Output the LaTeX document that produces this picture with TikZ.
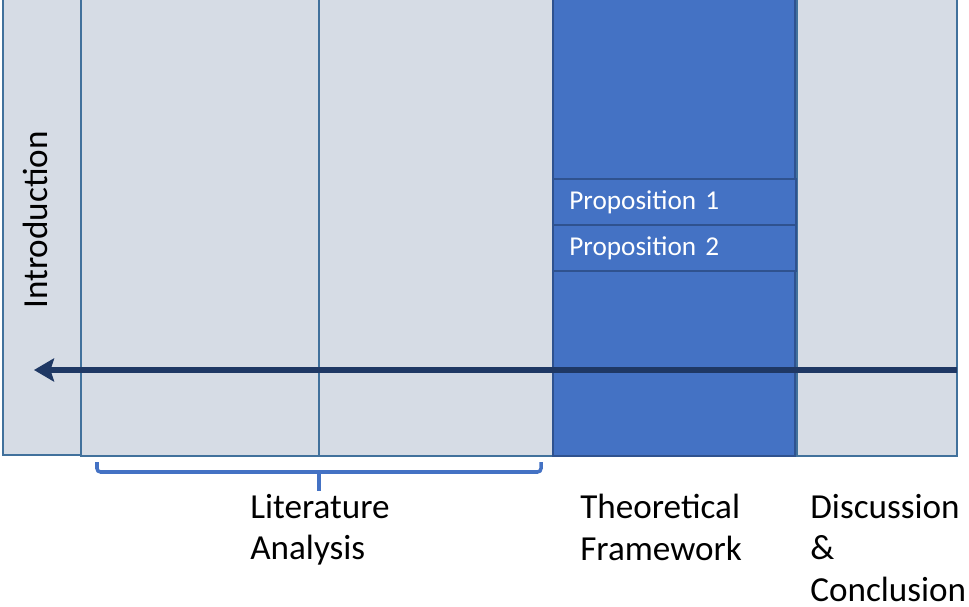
\documentclass[tikz,border=0pt]{standalone}
\usepackage{fontspec}
\setmainfont{Carlito}
\usepackage{xcolor}
\usepackage{tikz}
\usetikzlibrary{arrows.meta}
\definecolor{colfill}{HTML}{D6DCE5}
\definecolor{colline}{HTML}{41719C}
\definecolor{theofill}{HTML}{4472C4}
\definecolor{theoline}{HTML}{2F528F}
\definecolor{arrnavy}{HTML}{1F3864}
\tikzset{column/.style = {draw=colline, fill=colfill, line width=1pt},
  theory/.style = {draw=theoline, fill=theofill, line width=1pt},
  propbox/.style = {draw=theoline, fill=theofill, line width=1pt, anchor=north west,
    minimum width=4.86cm, minimum height=0.92cm, inner xsep=0.32cm, text=white,
    font=\fontsize{15.5}{18}\selectfont, text width=4.2cm, align=left},
  label/.style = {anchor=north west, inner sep=0pt, align=left,
    font=\fontsize{20}{23.6}\selectfont}}

\begin{document}
\begin{tikzpicture} [x=0.02cm, y=-0.02cm]
\useasboundingbox (0,0) rectangle (969,607);
\draw[column] (3,-5) rectangle (81,455);
\foreach \xa/\xb in {81/319, 319/553, 797/957} {
 \draw[column] (\xa,-5) rectangle (\xb,456);
}
\draw[theory] (553,-5) rectangle (795,456);
\node[propbox] (prop1) at (552,178) {Proposition 1};
\node[propbox] (prop2) at (552,224) {Proposition 2};
\node[rotate=90, font=\fontsize{20}{24}\selectfont] (intro) at (35,220) {Introduction};
% timeline arrow
\coordinate (arrStart) at (957,370);
\coordinate (arrEnd) at (34,370);
\draw[arrnavy, line width=3.4pt, -{Stealth[length=0.4cm, width=0.46cm, inset=0.07cm]}] (arrStart) -- (arrEnd);
% bracket under the literature part
\coordinate (brL) at (97,462);
\coordinate (brR) at (541,462);
\coordinate (brMid) at (319,472);
\coordinate (brTip) at (319,491);
\draw[theofill, line width=2pt, rounded corners=2pt] (brL) |- (brMid) -| (brR);
\draw[theofill, line width=2pt] (brMid) -- (brTip);
\node[label] (litLabel) at (250,494) {Literature\\Analysis};
\node[label] (theoLabel) at (580,494) {Theoretical\\Framework};
\node[label] (discLabel) at (810,494) {Discussion\\\&\\Conclusion};
\end{tikzpicture}
\end{document}
